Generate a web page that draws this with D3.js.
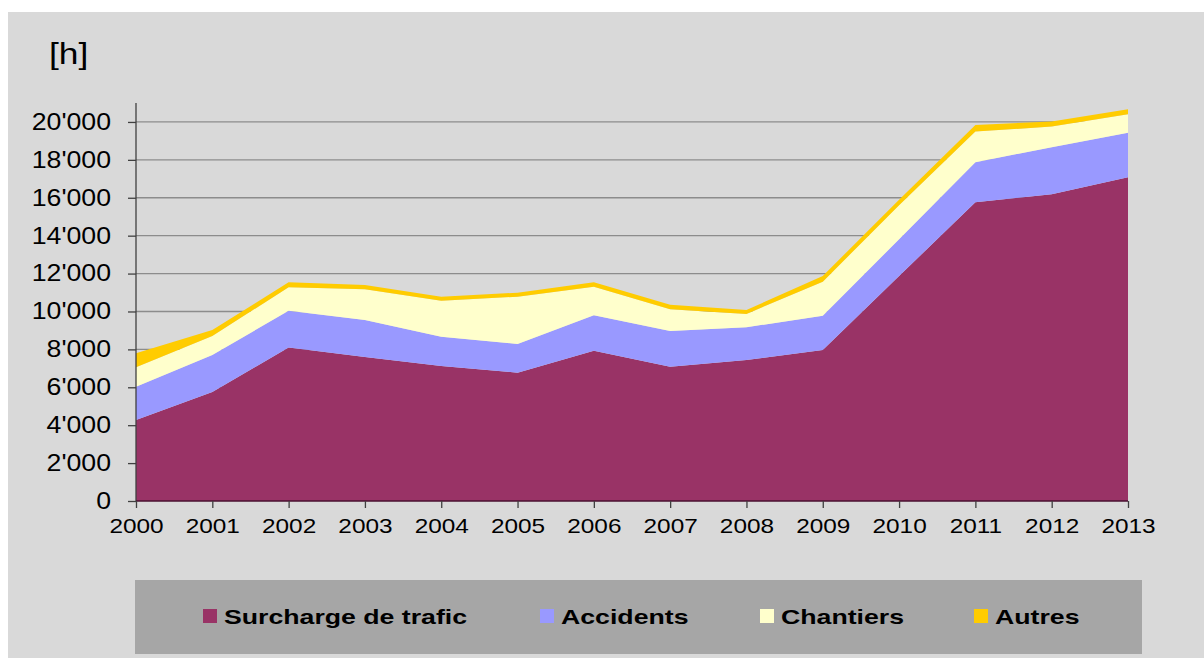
<!DOCTYPE html>
<html>
<head>
<meta charset="utf-8">
<script src="https://cdn.jsdelivr.net/npm/d3@7"></script>
<style>
  body { margin: 0; background: #fff; }
  svg { display: block; }
</style>
</head>
<body>
<script>
// Data
var years = [2000, 2001, 2002, 2003, 2004, 2005, 2006, 2007, 2008, 2009, 2010, 2011, 2012, 2013];
var surcharge = [4270, 5750, 8100, 7600, 7120, 6770, 7930, 7090, 7440, 7970, 11870, 15760, 16190, 17080];
var accidents = [1760, 1950, 1940, 1950, 1550, 1515, 1870, 1880, 1725, 1810, 1940, 2110, 2480, 2355];
var chantiers = [1025, 1000, 1240, 1620, 1900, 2495, 1510, 1145, 705, 1795, 1790, 1620, 1085, 965];
var autres = [735, 320, 260, 230, 210, 210, 230, 245, 210, 295, 300, 350, 270, 270];
var seriesNames = ["Surcharge de trafic", "Accidents", "Chantiers", "Autres"];
var seriesKeys = ["surcharge", "accidents", "chantiers", "autres"];
var colors = ["#993366", "#9999ff", "#ffffcc", "#ffcc00"];
var yTicks = [0, 2000, 4000, 6000, 8000, 10000, 12000, 14000, 16000, 18000, 20000];

// the original text is drawn a bit wider than normal Arial
function stretch(sel, factor) {
    sel.each(function () {
        var w = this.getComputedTextLength();
        d3.select(this)
            .attr("textLength", w * factor)
            .attr("lengthAdjust", "spacingAndGlyphs");
    });
}

window.onload = function () {
    var W = 1204, H = 658;
    var svg = d3.select("body").append("svg")
        .attr("width", W)
        .attr("height", H);

    // grey panel
    svg.append("rect")
        .attr("x", 8).attr("y", 12)
        .attr("width", W - 8).attr("height", H - 12)
        .style("fill", "#d9d9d9");

    var left = 136, right = 1128, top = 103, bottom = 501;

    var x = d3.scaleLinear().domain([2000, 2013]).range([left, right]);
    var y = d3.scaleLinear().domain([0, 21000]).range([bottom, top]);

    // rows for the stack
    var rows = years.map(function (yr, i) {
        return { year: yr, surcharge: surcharge[i], accidents: accidents[i], chantiers: chantiers[i], autres: autres[i] };
    });
    var stacked = d3.stack().keys(seriesKeys)(rows);

    // gridlines
    svg.append("g")
        .selectAll("line")
        .data(yTicks.slice(1))
        .join("line")
        .attr("x1", left).attr("x2", right)
        .attr("y1", function (d) { return y(d); })
        .attr("y2", function (d) { return y(d); })
        .style("stroke", "#8c8c8c")
        .style("stroke-width", 1.3);

    var area = d3.area()
        .x(function (d) { return x(d.data.year); })
        .y0(function (d) { return y(d[0]); })
        .y1(function (d) { return y(d[1]); });

    svg.append("g")
        .selectAll("path")
        .data(stacked)
        .join("path")
        .attr("d", area)
        .style("fill", function (d, i) { return colors[i]; });

    // y axis
    var yAxis = d3.axisLeft(y)
        .tickValues(yTicks)
        .tickSize(8)
        .tickPadding(17)
        .tickFormat(function (d) { return d3.format(",")(d).replace(/,/g, "'"); });
    var gy = svg.append("g")
        .attr("transform", "translate(" + left + ",0)")
        .call(yAxis);
    gy.select(".domain").attr("d", "M0," + top + "V" + bottom).style("stroke", "#404040").style("stroke-width", 1.3);
    gy.selectAll(".tick line").style("stroke", "#404040").style("stroke-width", 1.3);
    gy.selectAll("text")
        .style("font-family", "Liberation Sans, Arial, sans-serif")
        .style("font-size", "23px")
        .style("fill", "#000")
        .call(stretch, 1.16);

    // x axis
    var xAxis = d3.axisBottom(x)
        .tickValues(years)
        .tickSize(7)
        .tickPadding(10)
        .tickFormat(d3.format("d"));
    var gx = svg.append("g")
        .attr("transform", "translate(0," + bottom + ")")
        .call(xAxis);
    gx.select(".domain").attr("d", "M" + left + ",0H" + right).style("stroke", "#4a1030").style("stroke-width", 1.5);
    gx.selectAll(".tick line").style("stroke", "#404040").style("stroke-width", 1.3);
    gx.selectAll("text")
        .style("font-family", "Liberation Sans, Arial, sans-serif")
        .style("font-size", "21px")
        .style("fill", "#000")
        .call(stretch, 1.16);

    // unit label
    svg.append("text")
        .attr("x", 49).attr("y", 64)
        .text("[h]")
        .style("font-family", "Liberation Sans, Arial, sans-serif")
        .style("font-size", "30px")
        .style("fill", "#000")
        .call(stretch, 1.18);

    // legend
    var legend = svg.append("g");
    legend.append("rect")
        .attr("x", 135).attr("y", 580)
        .attr("width", 1007).attr("height", 74)
        .style("fill", "#a6a6a6");
    var legX = [203, 540, 760, 974];
    var items = legend.selectAll("g.item")
        .data(seriesNames)
        .join("g")
        .attr("class", "item")
        .attr("transform", function (d, i) { return "translate(" + legX[i] + ",0)"; });
    items.append("rect")
        .attr("x", 0).attr("y", 609)
        .attr("width", 14).attr("height", 14)
        .style("fill", function (d, i) { return colors[i]; });
    items.append("text")
        .attr("x", 21).attr("y", 624)
        .text(function (d) { return d; })
        .style("font-family", "Liberation Sans, Arial, sans-serif")
        .style("font-weight", "bold")
        .style("font-size", "21px")
        .style("fill", "#000")
        .call(stretch, 1.27);
};
</script>
</body>
</html>
